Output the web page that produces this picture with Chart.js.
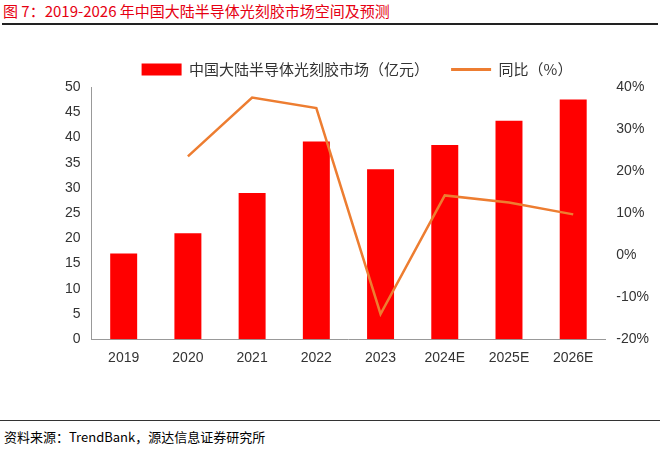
<!DOCTYPE html>
<html><head><meta charset="utf-8">
<script src="https://cdn.jsdelivr.net/npm/chart.js@4"></script>
<style>
body{margin:0;width:660px;height:449px;background:#fff;font-family:"Noto Sans CJK SC","Noto Sans",sans-serif;position:relative;overflow:hidden}
#title{position:absolute;left:3px;top:0px;font-size:15px;color:#e60012;font-weight:normal}
#tl{position:absolute;left:2px;top:23px;width:656px;height:2px;background:#222}
#bl{position:absolute;left:0;top:420px;width:660px;height:1px;background:#333}
#src{position:absolute;left:4px;top:427px;font-size:13px;color:#000}
#wrap{position:absolute;left:0;top:40px;width:660px;height:330px}
</style></head><body>
<div id="title">图 7：2019-2026 年中国大陆半导体光刻胶市场空间及预测</div>
<div id="tl"></div>
<div id="wrap"><canvas id="c"></canvas></div>
<div id="bl"></div>
<div id="src">资料来源：TrendBank，源达信息证券研究所</div>
<script>
const categories=["2019","2020","2021","2022","2023","2024E","2025E","2026E"];
const market=[17,21,29,39.2,33.7,38.5,43.3,47.5];
const yoy=[null,23.5,37.5,35,-14,14.2,12.5,9.7];
new Chart(document.getElementById('c'),{
 data:{labels:categories,datasets:[
  {type:'line',label:'同比（%）',data:yoy,yAxisID:'y1',borderColor:'#ed7d31',backgroundColor:'#ed7d31',borderWidth:2.5,pointRadius:0,tension:0,order:0},
  {type:'bar',label:'中国大陆半导体光刻胶市场（亿元）',data:market,yAxisID:'y',backgroundColor:'#ff0000',barPercentage:0.42,categoryPercentage:1,order:1}
 ]},
 options:{responsive:true,maintainAspectRatio:false,animation:false,
  layout:{padding:{left:62,right:8,top:0,bottom:0}},
  plugins:{legend:{reverse:true,labels:{font:{size:15,family:"Noto Sans CJK SC"},color:'#333',padding:22,
   generateLabels:(ch)=>{const d=Chart.defaults.plugins.legend.labels.generateLabels(ch);return d.map(l=>{if(l.text.startsWith('同比')){l.pointStyle='line';l.lineWidth=3;l.strokeStyle='#ed7d31';}else{l.pointStyle='rect';}return l;});},
   usePointStyle:true,pointStyleWidth:40,boxHeight:12}}},
  scales:{
   x:{grid:{display:false},border:{color:'#999'},ticks:{font:{size:14},color:'#333'}},
   y:{min:0,max:50,ticks:{stepSize:5,font:{size:14},color:'#333'},grid:{display:false},border:{display:true,color:'#999'}},
   y1:{position:'right',min:-20,max:40,ticks:{stepSize:10,font:{size:14},color:'#333',callback:v=>v+'%'},grid:{display:false},border:{display:false}}
  }}
});
</script></body></html>
